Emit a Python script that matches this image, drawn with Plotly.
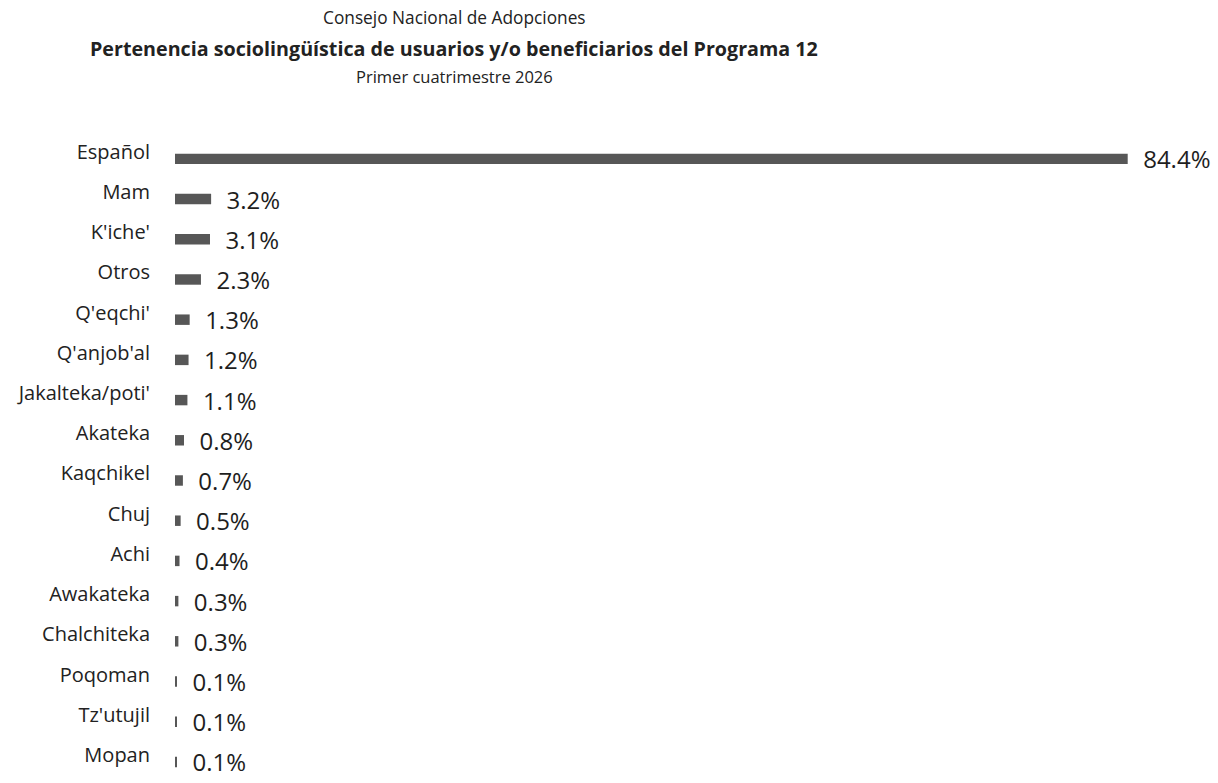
import plotly.graph_objects as go

categories = ["Español", "Mam", "K'iche'", "Otros", "Q'eqchi'", "Q'anjob'al",
              "Jakalteka/poti'", "Akateka", "Kaqchikel", "Chuj", "Achi",
              "Awakateka", "Chalchiteka", "Poqoman", "Tz'utujil", "Mopan"]
values = [84.4, 3.2, 3.1, 2.3, 1.3, 1.2, 1.1, 0.8, 0.7, 0.5, 0.4, 0.3, 0.3, 0.1, 0.1, 0.1]
labels = [f"{v:.1f}%" for v in values]

T, B = 139, 5
H = 783 - T - B

fig = go.Figure(go.Bar(
    x=values, y=categories, orientation="h",
    width=0.26,
    marker=dict(color="#575757", line=dict(width=0)),
    text=labels, texttemplate="  %{text}", textposition="outside",
    constraintext="none",
    textfont=dict(family="Open Sans", size=24, color="#1e1e1e"),
    cliponaxis=False,
))

fig.update_layout(
    width=1218, height=783,
    margin=dict(l=175, r=0, t=T, b=B),
    paper_bgcolor="white", plot_bgcolor="white",
    showlegend=False,
    xaxis=dict(range=[0, 92.4], visible=False),
    yaxis=dict(range=[15.4, -0.494], showgrid=False, zeroline=False,
               showline=False, ticks="", ticklabelstandoff=24, ticklabelshift=7,
               tickfont=dict(family="Open Sans", size=20, color="#222222")),
)
for txt, yy, size in [("Consejo Nacional de Adopciones", 18, 17.3),
                      ("<b>Pertenencia sociolingüística de usuarios y/o beneficiarios del Programa 12</b>", 49, 19.7),
                      ("Primer cuatrimestre 2026", 77, 16.5)]:
    fig.add_annotation(
        text=txt, xref="paper", yref="paper",
        x=(454 - 175) / (1218 - 175), y=1 + (T - yy) / H,
        xanchor="center", yanchor="middle", showarrow=False,
        font=dict(family="Open Sans", size=size, color="#222222"),
    )

fig.write_html("out.html")
